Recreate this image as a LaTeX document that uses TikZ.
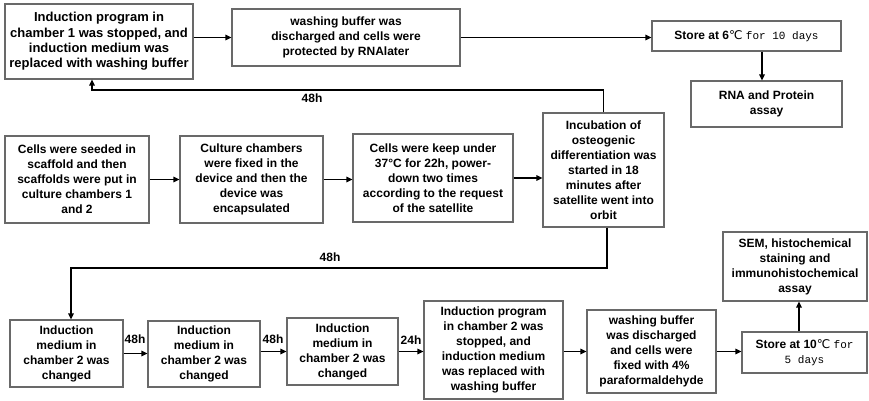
\documentclass[tikz,border=0pt]{standalone}
\usepackage{fontspec}
\setmainfont{Liberation Sans}
\setmonofont{Liberation Mono}
\newfontfamily\dvs{DejaVu Sans}
\usetikzlibrary{arrows.meta}
\definecolor{bordergray}{RGB}{105,105,105}
\newcommand{\degC}{{\dvs\mdseries ℃}}
\newcommand{\sfx}[1]{{\fontsize{11}{13}\selectfont\ttfamily\mdseries #1}}
\begin{document}
\begin{tikzpicture}[x=1pt,y=-1pt,
  box/.style={draw=bordergray, line width=1.1pt, align=center, inner sep=1pt,
    font=\fontsize{12}{15}\selectfont\bfseries},
  arr/.style={line width=1.6pt, -{Triangle[length=6pt,width=5.5pt]}},
  lab/.style={font=\fontsize{12}{14}\selectfont\bfseries, inner sep=0pt}]
\useasboundingbox (0,0) rectangle (869,401);
% row 1
\node[box, minimum width=188pt, minimum height=75pt, font=\fontsize{13}{15.3}\selectfont\bfseries] (A) at (99,41.5)
  {Induction program in\\chamber 1 was stopped, and\\induction medium was\\replaced with washing buffer};
\node[box, minimum width=228pt, minimum height=57pt] (B) at (346,37.5)
  {washing buffer was\\discharged and cells were\\protected by RNAlater};
\node[box, minimum width=189pt, minimum height=30pt] (S6) at (746.5,36)
  {Store at 6\degC\ \sfx{for 10 days}};
\node[box, minimum width=151pt, minimum height=46pt] (R) at (766.5,104)
  {RNA and Protein\\assay};
% row 2
\node[box, minimum width=144pt, minimum height=87pt] (C) at (77,179.5)
  {Cells were seeded in\\scaffold and then\\scaffolds were put in\\culture chambers 1\\and 2};
\node[box, minimum width=143pt, minimum height=87pt] (D) at (251.5,179.5)
  {Culture chambers\\were fixed in the\\device and then the\\device was\\encapsulated};
\node[box, minimum width=160pt, minimum height=88pt] (E) at (433,178)
  {Cells were keep under\\37°C for 22h, power-\\down two times\\according to the request\\of the satellite};
\node[box, minimum width=121pt, minimum height=114pt] (F) at (603.5,170)
  {Incubation of\\osteogenic\\differentiation was\\started in 18\\minutes after\\satellite went into\\orbit};
% row 3
\node[box, minimum width=113pt, minimum height=67pt] (G) at (66.5,353.5)
  {Induction\\medium in\\chamber 2 was\\changed};
\node[box, minimum width=112pt, minimum height=66pt] (H) at (204,354)
  {Induction\\medium in\\chamber 2 was\\changed};
\node[box, minimum width=111pt, minimum height=67pt] (I) at (342.5,351.5)
  {Induction\\medium in\\chamber 2 was\\changed};
\node[box, minimum width=139pt, minimum height=98pt] (J) at (493.5,350)
  {Induction program\\in chamber 2 was\\stopped, and\\induction medium\\was replaced with\\washing buffer};
\node[box, minimum width=129pt, minimum height=83pt] (K) at (651.5,351.5)
  {washing buffer\\was discharged\\and cells were\\fixed with 4\%\\paraformaldehyde};
\node[box, minimum width=125pt, minimum height=41pt] (L) at (804.5,352.5)
  {Store at 10\degC\ \sfx{for}\\\sfx{5 days}};
\node[box, minimum width=144pt, minimum height=69pt] (M) at (795,266.5)
  {SEM, histochemical\\staining and\\immunohistochemical\\assay};
% connectors row 1
\draw[arr] (A.east |- B.west) -- (B.west);
\draw[arr] (B.east) -- (B.east -| S6.west);
\coordinate (sr) at (762,0);
\draw[arr] (S6.south -| sr) -- (R.north -| sr);
% loop 1
\coordinate (t1) at (92,90);
\draw[arr] (F.north) |- (t1) -- (t1 |- A.south);
\node[lab] (l1) at (312,98) {48h};
% row 2
\draw[arr] (C.east) -- (D.west);
\draw[arr] (D.east) -- (D.east -| E.west);
\draw[arr] (E.east) -- (E.east -| F.west);
% loop 2
\coordinate (t2) at (607,268);
\coordinate (t3) at (71,268);
\draw[arr] (F.south -| t2) -- (t2) -- (t3) -- (t3 |- G.north);
\node[lab] (l2) at (330,257) {48h};
% row 3
\draw[arr] (G.east) -- (G.east -| H.west);
\draw[arr] (H.east |- I.west) -- (I.west);
\draw[arr] (I.east) -- (I.east -| J.west);
\draw[arr] (J.east |- K.west) -- (K.west);
\draw[arr] (K.east) -- (K.east -| L.west);
\coordinate (lm) at (799,0);
\draw[arr] (L.north -| lm) -- (M.south -| lm);
\node[lab] (l3) at (135,339) {48h};
\node[lab] (l4) at (273,339) {48h};
\node[lab] (l5) at (411,340) {24h};
\end{tikzpicture}
\end{document}
